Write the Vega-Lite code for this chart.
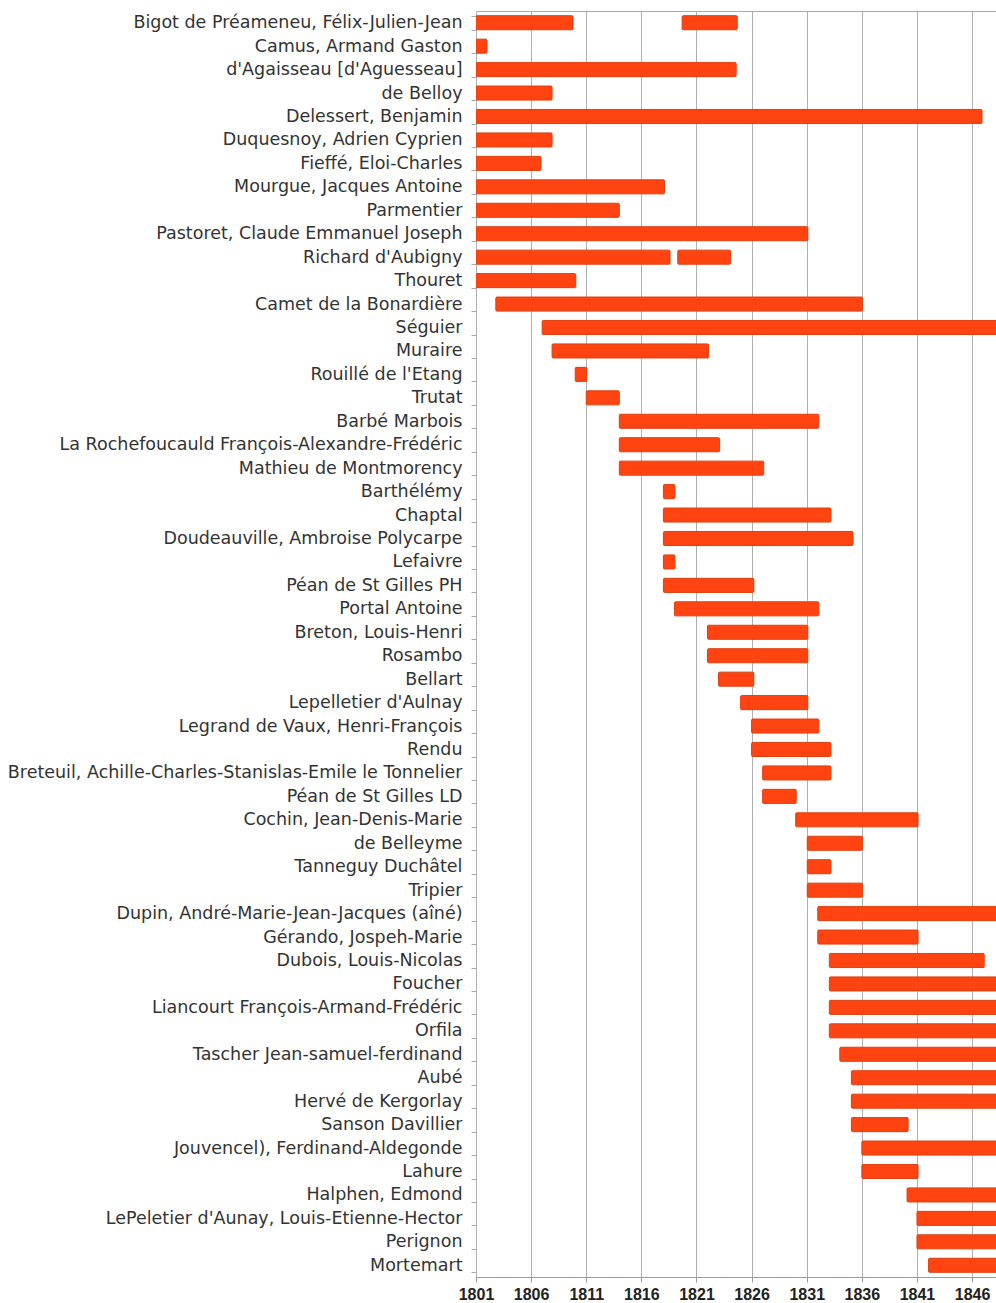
{
  "$schema": "https://vega.github.io/schema/vega-lite/v6.json",
  "autosize": "none",
  "padding": {"left": 476, "top": 11, "right": 0, "bottom": 26},
  "width": 522,
  "height": 1266,
  "background": "white",
  "config": {"view": {"stroke": "#aaaaaa", "strokeWidth": 1}},
  "data": {"values": [
    {"name": "Bigot de Préameneu, Félix-Julien-Jean", "start": 1801, "end": 1809.8},
    {"name": "Bigot de Préameneu, Félix-Julien-Jean", "start": 1819.7, "end": 1824.7},
    {"name": "Camus, Armand Gaston", "start": 1801, "end": 1802},
    {"name": "d'Agaisseau [d'Aguesseau]", "start": 1801, "end": 1824.6},
    {"name": "de Belloy", "start": 1801, "end": 1807.9},
    {"name": "Delessert, Benjamin", "start": 1801, "end": 1846.9},
    {"name": "Duquesnoy, Adrien Cyprien", "start": 1801, "end": 1807.9},
    {"name": "Fieffé, Eloi-Charles", "start": 1801, "end": 1806.9},
    {"name": "Mourgue, Jacques Antoine", "start": 1801, "end": 1818.1},
    {"name": "Parmentier", "start": 1801, "end": 1814},
    {"name": "Pastoret, Claude Emmanuel Joseph", "start": 1801, "end": 1831.1},
    {"name": "Richard d'Aubigny", "start": 1801, "end": 1818.6},
    {"name": "Richard d'Aubigny", "start": 1819.3, "end": 1824.1},
    {"name": "Thouret", "start": 1801, "end": 1810.05},
    {"name": "Camet de la Bonardière", "start": 1802.8, "end": 1836.05},
    {"name": "Séguier", "start": 1807, "end": 1849},
    {"name": "Muraire", "start": 1807.9, "end": 1822.1},
    {"name": "Rouillé de l'Etang", "start": 1810, "end": 1811.05},
    {"name": "Trutat", "start": 1811, "end": 1814},
    {"name": "Barbé Marbois", "start": 1814, "end": 1832.1},
    {"name": "La Rochefoucauld François-Alexandre-Frédéric", "start": 1814, "end": 1823.1},
    {"name": "Mathieu de Montmorency", "start": 1814, "end": 1827.1},
    {"name": "Barthélémy", "start": 1818, "end": 1819.05},
    {"name": "Chaptal", "start": 1818, "end": 1833.2},
    {"name": "Doudeauville, Ambroise Polycarpe", "start": 1818, "end": 1835.2},
    {"name": "Lefaivre", "start": 1818, "end": 1819.05},
    {"name": "Péan de St Gilles PH", "start": 1818, "end": 1826.2},
    {"name": "Portal Antoine", "start": 1819, "end": 1832.1},
    {"name": "Breton, Louis-Henri", "start": 1822, "end": 1831.1},
    {"name": "Rosambo", "start": 1822, "end": 1831.1},
    {"name": "Bellart", "start": 1823, "end": 1826.2},
    {"name": "Lepelletier d'Aulnay", "start": 1825, "end": 1831.1},
    {"name": "Legrand de Vaux, Henri-François", "start": 1826, "end": 1832.1},
    {"name": "Rendu", "start": 1826, "end": 1833.2},
    {"name": "Breteuil, Achille-Charles-Stanislas-Emile le Tonnelier", "start": 1827, "end": 1833.2},
    {"name": "Péan de St Gilles LD", "start": 1827, "end": 1830.05},
    {"name": "Cochin, Jean-Denis-Marie", "start": 1830, "end": 1841.1},
    {"name": "de Belleyme", "start": 1831.05, "end": 1836.05},
    {"name": "Tanneguy Duchâtel", "start": 1831.05, "end": 1833.2},
    {"name": "Tripier", "start": 1831.05, "end": 1836.05},
    {"name": "Dupin, André-Marie-Jean-Jacques (aîné)", "start": 1832, "end": 1849},
    {"name": "Gérando, Jospeh-Marie", "start": 1832, "end": 1841.1},
    {"name": "Dubois, Louis-Nicolas", "start": 1833.05, "end": 1847.1},
    {"name": "Foucher", "start": 1833.05, "end": 1849},
    {"name": "Liancourt François-Armand-Frédéric", "start": 1833.05, "end": 1849},
    {"name": "Orfila", "start": 1833.05, "end": 1849},
    {"name": "Tascher Jean-samuel-ferdinand", "start": 1834, "end": 1849},
    {"name": "Aubé", "start": 1835.05, "end": 1849},
    {"name": "Hervé de Kergorlay", "start": 1835.05, "end": 1849},
    {"name": "Sanson Davillier", "start": 1835.05, "end": 1840.2},
    {"name": "Jouvencel), Ferdinand-Aldegonde", "start": 1836, "end": 1849},
    {"name": "Lahure", "start": 1836, "end": 1841.1},
    {"name": "Halphen, Edmond", "start": 1840.1, "end": 1849},
    {"name": "LePeletier d'Aunay, Louis-Etienne-Hector", "start": 1841, "end": 1849},
    {"name": "Perignon", "start": 1841, "end": 1849},
    {"name": "Mortemart", "start": 1842.05, "end": 1849}
  ]},
  "mark": {"type": "bar", "clip": true, "fill": "#ff4412", "stroke": "#dd4010", "strokeWidth": 1, "cornerRadius": 1},
  "encoding": {
    "y": {
      "field": "name", "type": "nominal", "sort": null,
      "scale": {"paddingInner": 0.4, "paddingOuter": 0.2},
      "axis": {
        "title": null, "labelFont": "DejaVu Sans", "labelFontSize": 17.5, "labelColor": "#333333",
        "tickBand": "extent", "tickSize": 5, "tickColor": "#aaaaaa", "domain": false,
        "labelPadding": 9, "labelLimit": 0, "grid": false
      }
    },
    "x": {
      "field": "start", "type": "quantitative",
      "scale": {"domain": [1801, 1848.35], "nice": false, "zero": false},
      "axis": {
        "title": null, "values": [1801, 1806, 1811, 1816, 1821, 1826, 1831, 1836, 1841, 1846],
        "format": "d", "labelFont": "Liberation Sans", "labelFontWeight": "bold", "labelFontSize": 16,
        "labelColor": "#222222", "tickColor": "#999999", "tickSize": 5, "domainColor": "#999999",
        "gridColor": "#b0b0b0", "grid": true, "labelPadding": 4, "labelFlush": false, "labelOverlap": false
      }
    },
    "x2": {"field": "end"}
  }
}
